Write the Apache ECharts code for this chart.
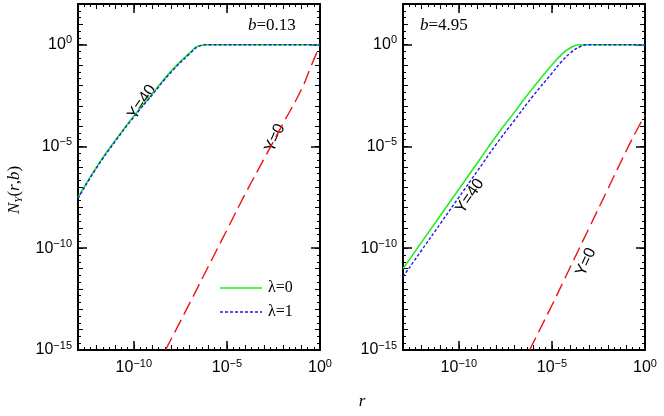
<!DOCTYPE html>
<html><head><meta charset="utf-8">
<script src="https://cdn.jsdelivr.net/npm/echarts@6/dist/echarts.min.js"></script>
<style>html,body{margin:0;padding:0;background:#fff}#c{width:664px;height:416px}</style>
</head><body><div id="c"></div>
<script>
// values are log10(r) and log10(N_Y)
const majorTicksX = [-10, -5, 0];
const majorTicksY = [-15, -10, -5, 0];
const leftG_x  = [-13, -12, -11, -10, -9, -8, -7, -6.5, -6, -3, 0];
const leftG_y  = [-7.5, -6.0, -4.7, -3.5, -2.4, -1.3, -0.4, -0.05, 0, 0, 0];
const leftB_y  = [-7.55, -6.05, -4.75, -3.55, -2.45, -1.35, -0.45, -0.08, 0, 0, 0];
const leftR_x  = [-8.3, -7, -6, -5, -4, -3, -2, -1, -0.5, -0.2, 0];
const leftR_y  = [-15, -12.7, -10.9, -9.1, -7.3, -5.6, -3.9, -2.2, -1.1, -0.45, -0.1];
const rightG_x = [-13, -12, -11, -10, -9, -8, -7, -6, -5, -4.5, -4, -3.5, -3, 0];
const rightG_y = [-11.0, -9.7, -8.4, -7.1, -5.8, -4.5, -3.3, -2.1, -1.0, -0.5, -0.15, 0, 0, 0];
const rightB_y = [-11.4, -10.1, -8.8, -7.5, -6.2, -4.9, -3.7, -2.5, -1.4, -0.85, -0.4, -0.1, 0, 0];
const rightR_x = [-6.2, -5, -4, -3, -2, -1, -0.5, 0];
const rightR_y = [-15, -12.8, -10.9, -9.0, -7.1, -5.2, -4.3, -3.45];

const pairs = (xs, ys) => xs.map((x, i) => [x, ys[i]]);
const supFmt = v => '{b|10}{s|' + (v === 0 ? '0' : '\u2212' + Math.abs(v)) + '}';
const rich = {b:{fontSize:16,fontFamily:'Liberation Sans',color:'#000'},s:{fontSize:11,fontFamily:'Liberation Sans',color:'#000',verticalAlign:'top',padding:[0,0,9,0]}};

const xAxes = [], yAxes = [];
function axesFor(g) {
  const baseX = {gridIndex:g,type:'value',min:-13,max:0,interval:1,splitLine:{show:false}};
  const baseY = {gridIndex:g,type:'value',min:-15,max:2,interval:1,splitLine:{show:false}};
  for (const pos of ['bottom','top']) {
    xAxes.push(Object.assign({}, baseX, {position:pos,
      axisLine:{onZero:false,lineStyle:{color:'#000',width:2}},
      axisTick:{inside:true,length:5,lineStyle:{color:'#000'}},
      minorTick:{show:true,splitNumber:3,length:3,lineStyle:{color:'#000'}},
      axisLabel:pos==='bottom'?{customValues:majorTicksX,formatter:supFmt,rich:rich,margin:8}:{show:false}}));
    xAxes.push(Object.assign({}, baseX, {position:pos,axisLine:{show:false,onZero:false},
      axisTick:{inside:true,length:9,customValues:majorTicksX,lineStyle:{color:'#000',width:1.5}},axisLabel:{show:false}}));
  }
  for (const pos of ['left','right']) {
    yAxes.push(Object.assign({}, baseY, {position:pos,
      axisLine:{onZero:false,lineStyle:{color:'#000',width:2}},
      axisTick:{inside:true,length:5,lineStyle:{color:'#000'}},
      minorTick:{show:true,splitNumber:3,length:3,lineStyle:{color:'#000'}},
      axisLabel:pos==='left'?{customValues:majorTicksY,formatter:supFmt,rich:rich,margin:6}:{show:false}}));
    yAxes.push(Object.assign({}, baseY, {position:pos,axisLine:{show:false,onZero:false},
      axisTick:{inside:true,length:9,customValues:majorTicksY,lineStyle:{color:'#000',width:1.5}},axisLabel:{show:false}}));
  }
}
axesFor(0); axesFor(1);

function line(name, g, data, color, type, width) {
  return {name, type:'line', xAxisIndex:g*4, yAxisIndex:g*4, data, smooth:true, symbol:'none',
    lineStyle:{color, type, width}, itemStyle:{color}, z:type==='solid'?3:4};
}
const series = [
  line('\u03bb=0', 0, pairs(leftG_x, leftG_y), '#22ee22', 'solid', 1.6),
  line('\u03bb=1', 0, pairs(leftG_x, leftB_y), '#1a1aee', [3,2], 1.4),
  line('red0', 0, pairs(leftR_x, leftR_y), '#ee1111', [14,6], 1.4),
  line('\u03bb=0', 1, pairs(rightG_x, rightG_y), '#22ee22', 'solid', 1.6),
  line('\u03bb=1', 1, pairs(rightG_x, rightB_y), '#1a1aee', [3,2], 1.4),
  line('red1', 1, pairs(rightR_x, rightR_y), '#ee1111', [14,6], 1.4)
];

const txt = (left, top, text, rot) => ({type:'text', x:left, y:top, rotation:rot*Math.PI/180,
  style:{text, fill:'#000', font:'16px "Liberation Sans"', align:'center', verticalAlign:'middle'}});

const chart = echarts.init(document.getElementById('c'), null, {renderer:'canvas'});
chart.setOption({
  animation:false,
  grid:[{left:78,right:344,top:4,bottom:66},{left:403,right:19,top:4,bottom:66}],
  xAxis:xAxes, yAxis:yAxes, series,
  graphic:[
    {type:'line', shape:{x1:220,y1:288,x2:262,y2:288}, style:{stroke:'#22ee22', lineWidth:1.6}},
    {type:'line', shape:{x1:220,y1:312,x2:262,y2:312}, style:{stroke:'#1a1aee', lineWidth:1.4, lineDash:[3,2]}},
    {type:'text', x:268, y:288, style:{text:'\u03bb=0', font:'16px "Liberation Serif"', fill:'#000', verticalAlign:'middle'}},
    {type:'text', x:268, y:312, style:{text:'\u03bb=1', font:'16px "Liberation Serif"', fill:'#000', verticalAlign:'middle'}},
    txt(142, 102, 'Y=40', 56),
    txt(275, 138, 'Y=0', 66),
    txt(470, 196, 'Y=40', 56),
    txt(586, 262, 'Y=0', 66),
    {type:'text', x:248, y:26, style:{text:'{i|b}=0.13', rich:{i:{fontFamily:'Liberation Serif',fontStyle:'italic',fontSize:17}}, font:'17px "Liberation Serif"', fill:'#000', verticalAlign:'middle'}},
    {type:'text', x:420, y:26, style:{text:'{i|b}=4.95', rich:{i:{fontFamily:'Liberation Serif',fontStyle:'italic',fontSize:17}}, font:'17px "Liberation Serif"', fill:'#000', verticalAlign:'middle'}},
    {type:'text', x:362, y:402, style:{text:'r', font:'italic 17px "Liberation Serif"', fill:'#000', align:'center', verticalAlign:'middle'}},
    {type:'text', x:15, y:190, rotation:Math.PI/2, style:{text:'{i|N}{s|Y}{n|(}{i|r}{n|,}{i|b}{n|)}', align:'center', verticalAlign:'middle',
      rich:{i:{fontFamily:'Liberation Serif',fontStyle:'italic',fontSize:17,fill:'#000'},n:{fontFamily:'Liberation Serif',fontSize:17,fill:'#000'},s:{fontFamily:'Liberation Serif',fontStyle:'italic',fontSize:11,fill:'#000',verticalAlign:'bottom',padding:[8,0,0,0]}}}}
  ]
});
</script></body></html>
